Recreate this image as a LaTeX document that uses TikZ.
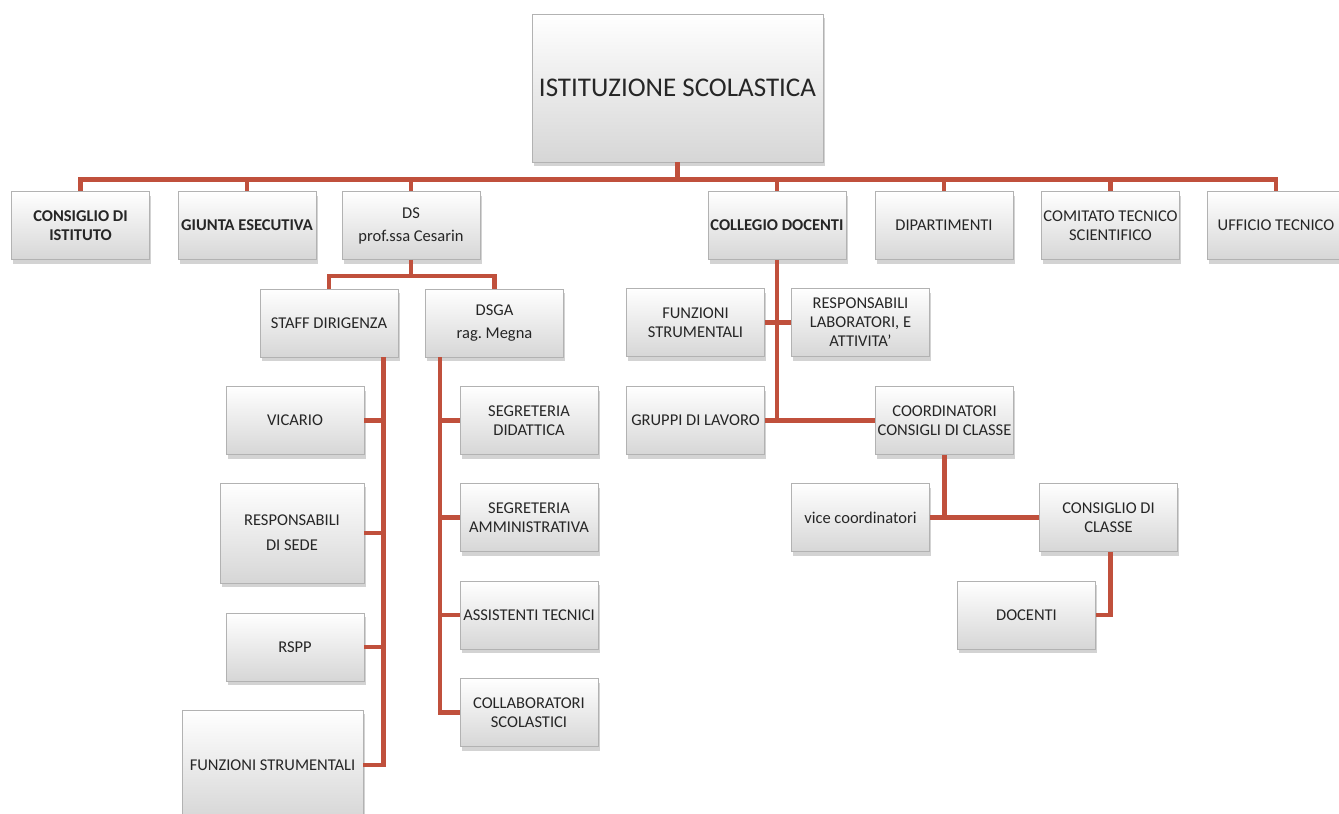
\documentclass[tikz,border=0pt]{standalone}
\usepackage{fontspec}
\setmainfont{Carlito}
\usepackage{xcolor}
\usetikzlibrary{
    shadows
}
\frenchspacing
\definecolor{rust}{RGB}{192,80,60}
\tikzstyle{unit} = [
    rectangle, draw=gray!60,
    line width=0.6pt,
    top color=white,
    bottom color=gray!32,
    drop shadow={shadow xshift=1.5pt, shadow yshift=-4pt, opacity=0.35},
    minimum width=138pt,
    minimum height=68pt,
    inner sep=1pt,
    text centered,
    align=center,
    text=black!85,
    font=\fontsize{16.5}{19}\selectfont
]
\tikzstyle{strong} = [
    font=\fontsize{16.5}{19}\selectfont\bfseries
]
\tikzstyle{link} = [
    line width=4.5pt,
    draw=rust
]

\begin{document}
\begin{tikzpicture}[
        x=1pt, y=-1pt
    ]
    \useasboundingbox (0,0) rectangle (1339,814);
    % top
    \node[unit, minimum width=291pt, minimum height=148pt,
        font=\fontsize{27}{31}\selectfont] (root) at (677.5,88) {ISTITUZIONE SCOLASTICA};
    % first row
    \node[unit, strong] (ci)  at (80.5,225.5)  {CONSIGLIO DI\\ISTITUTO};
    \node[unit, strong] (ge)  at (247,225.5)   {GIUNTA ESECUTIVA};
    \node[unit]         (ds)  at (411,225.5)   {DS\\[4pt]prof.ssa Cesarin};
    \node[unit, strong] (cd)  at (777,225.5)   {COLLEGIO DOCENTI};
    \node[unit]         (dip) at (944,225.5)   {DIPARTIMENTI};
    \node[unit]         (cts) at (1110.5,225.5) {COMITATO TECNICO\\SCIENTIFICO};
    \node[unit]         (ut)  at (1276,225.5)  {UFFICIO TECNICO};
    % under DS
    \node[unit] (staff) at (329,323)   {STAFF DIRIGENZA};
    \node[unit] (dsga)  at (494.5,323) {DSGA\\[4pt]rag. Megna};
    \node[unit] (vic)   at (295,420.5) {VICARIO};
    \node[unit, minimum width=144pt, minimum height=100pt] (rds) at (292,533) {RESPONSABILI\\[6pt]DI SEDE};
    \node[unit] (rspp)  at (295,647)   {RSPP};
    \node[unit, minimum width=181pt, minimum height=110pt] (fsl) at (272.5,765) {FUNZIONI STRUMENTALI};
    \node[unit] (sdid)  at (529,420.5) {SEGRETERIA\\DIDATTICA};
    \node[unit] (samm)  at (529,517.5) {SEGRETERIA\\AMMINISTRATIVA};
    \node[unit] (atec)  at (529,615)   {ASSISTENTI TECNICI};
    \node[unit] (csco)  at (529,712.5) {COLLABORATORI\\SCOLASTICI};
    % under collegio docenti
    \node[unit] (fsr)   at (695.5,322.5) {FUNZIONI\\STRUMENTALI};
    \node[unit] (rlab)  at (860.5,322.5) {RESPONSABILI\\LABORATORI, E\\ATTIVITA’};
    \node[unit] (glav)  at (695.5,420.5) {GRUPPI DI LAVORO};
    \node[unit] (coord) at (944.5,420.5) {COORDINATORI\\CONSIGLI DI CLASSE};
    \node[unit] (vice)  at (860.5,517.5) {vice coordinatori};
    \node[unit] (ccl)   at (1108.5,517.5) {CONSIGLIO DI\\CLASSE};
    \node[unit] (doc)   at (1026.5,615)  {DOCENTI};
    % connectors
    \foreach \n in {ci,ge,ds,cd,dip,cts,ut}
        \draw[link] (root.south) -- ++(0,17) -| (\n.north);
    \foreach \n in {staff,dsga}
        \draw[link] (ds.south) -- ++(0,16) -| (\n.north);
    \foreach \n in {vic,rds,rspp,fsl}
        \draw[link] ([xshift=-15pt]staff.south east) |- (\n.east);
    \foreach \n in {sdid,samm,atec,csco}
        \draw[link] ([xshift=15pt]dsga.south west) |- (\n.west);
    \draw[link] (cd.south) |- (coord.west);
    \draw[link] (glav.east) -- (coord.west);
    \draw[link] (fsr.east) -- (rlab.west);
    \draw[link] (coord.south) |- (vice.east);
    \draw[link] (vice.east) -- (ccl.west);
    \draw[link] ([xshift=2pt]ccl.south) |- (doc.east);
\end{tikzpicture}
\end{document}
